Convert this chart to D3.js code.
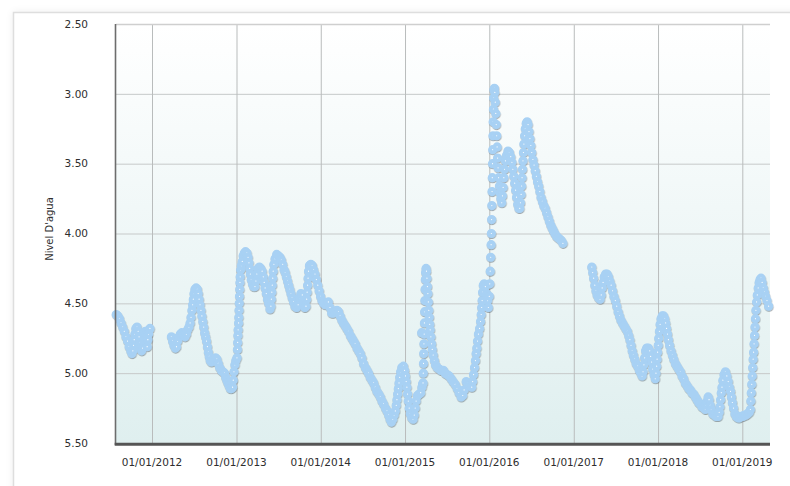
<!DOCTYPE html>
<html>
<head>
<meta charset="utf-8">
<script src="https://cdn.jsdelivr.net/npm/d3@7"></script>
<style>
  html, body { margin: 0; padding: 0; background: #ffffff; }
  svg { display: block; }
  text { font-family: "DejaVu Sans", Verdana, sans-serif; }
</style>
</head>
<body>
<svg id="chart" width="790" height="486"></svg>
<script>
// Groundwater level readings, one list per year: [month-day, level in metres]
const readings2011 = [
  ["07-30",4.58],["08-06",4.59],["08-13",4.61],["08-20",4.64],["08-27",4.67],["09-03",4.70],
  ["09-10",4.74],["09-17",4.77],["09-24",4.81],["10-01",4.84],["10-06",4.86],["10-10",4.84],
  ["10-13",4.80],["10-16",4.76],["10-19",4.72],["10-23",4.68],["10-28",4.67],["11-02",4.70],
  ["11-06",4.74],["11-10",4.78],["11-14",4.82],["11-17",4.84],["11-21",4.82],["11-25",4.77],
  ["11-29",4.73],["12-03",4.70],["12-06",4.72],["12-09",4.78],["12-11",4.81],["12-14",4.76],
  ["12-17",4.72],["12-20",4.69],["12-23",4.68]
];
const readings2012 = [
  ["03-25",4.74],["03-30",4.77],["04-05",4.80],["04-11",4.82],["04-16",4.81],["04-21",4.77],
  ["04-27",4.74],["05-03",4.72],["05-09",4.71],["05-16",4.73],["05-23",4.74],["05-29",4.72],
  ["06-03",4.69],["06-09",4.67],["06-14",4.64],["06-18",4.60],["06-22",4.55],["06-25",4.51],
  ["06-28",4.47],["07-01",4.43],["07-05",4.40],["07-10",4.39],["07-15",4.40],["07-19",4.43],
  ["07-23",4.47],["07-27",4.51],["07-31",4.55],["08-04",4.59],["08-08",4.63],["08-12",4.67],
  ["08-16",4.71],["08-20",4.74],["08-24",4.77],["08-28",4.81],["09-01",4.85],["09-05",4.88],
  ["09-09",4.91],["09-14",4.92],["09-20",4.91],["09-26",4.90],["10-02",4.89],["10-08",4.90],
  ["10-14",4.93],["10-20",4.96],["10-27",4.98],["11-03",4.99],["11-10",5.00],["11-15",5.03],
  ["11-20",5.05],["11-25",5.07],["11-30",5.09],["12-05",5.11],["12-10",5.11],["12-15",5.10],
  ["12-18",5.05],["12-21",4.99],["12-25",4.94],["12-29",4.91]
];
const readings2013 = [
  ["01-03",4.89],["01-05",4.83],["01-06",4.78],["01-07",4.73],["01-08",4.69],["01-10",4.64],
  ["01-11",4.60],["01-12",4.55],["01-13",4.50],["01-14",4.45],["01-15",4.40],["01-16",4.35],
  ["01-17",4.31],["01-19",4.26],["01-22",4.23],["01-26",4.20],["01-30",4.16],["02-04",4.14],
  ["02-09",4.13],["02-15",4.14],["02-20",4.17],["02-24",4.21],["02-27",4.25],["03-02",4.29],
  ["03-06",4.33],["03-11",4.36],["03-16",4.38],["03-22",4.38],["03-26",4.34],["03-30",4.29],
  ["04-04",4.25],["04-10",4.24],["04-16",4.25],["04-22",4.27],["04-27",4.31],["05-01",4.35],
  ["05-05",4.39],["05-10",4.43],["05-15",4.47],["05-20",4.50],["05-26",4.54],["05-30",4.52],
  ["06-01",4.47],["06-03",4.42],["06-05",4.37],["06-07",4.32],["06-09",4.27],["06-12",4.22],
  ["06-17",4.18],["06-24",4.15],["07-01",4.16],["07-08",4.17],["07-14",4.19],["07-20",4.22],
  ["07-26",4.26],["07-31",4.28],["08-05",4.31],["08-10",4.34],["08-15",4.37],["08-20",4.40],
  ["08-25",4.43],["08-30",4.46],["09-05",4.49],["09-11",4.52],["09-18",4.53],["09-25",4.51],
  ["10-01",4.46],["10-07",4.43],["10-13",4.44],["10-18",4.48],["10-24",4.53],["10-29",4.52],
  ["11-01",4.47],["11-03",4.42],["11-05",4.37],["11-07",4.32],["11-09",4.27],["11-13",4.23],
  ["11-19",4.22],["11-25",4.23],["12-01",4.26],["12-07",4.29],["12-13",4.33],["12-19",4.37],
  ["12-25",4.41],["12-31",4.45]
];
const readings2014 = [
  ["01-06",4.48],["01-13",4.50],["01-20",4.51],["01-27",4.50],["02-03",4.49],["02-10",4.53],
  ["02-17",4.57],["02-25",4.57],["03-04",4.56],["03-12",4.55],["03-19",4.56],["03-26",4.59],
  ["04-02",4.62],["04-09",4.64],["04-17",4.66],["04-24",4.68],["05-01",4.70],["05-09",4.73],
  ["05-16",4.75],["05-23",4.77],["05-30",4.79],["06-07",4.82],["06-14",4.84],["06-21",4.86],
  ["06-28",4.89],["07-05",4.93],["07-13",4.96],["07-20",4.98],["07-27",5.00],["08-03",5.03],
  ["08-11",5.05],["08-18",5.07],["08-25",5.10],["09-01",5.13],["09-09",5.15],["09-16",5.17],
  ["09-23",5.20],["09-30",5.22],["10-08",5.25],["10-15",5.27],["10-22",5.30],["10-28",5.33],
  ["11-03",5.35],["11-09",5.33],["11-15",5.30],["11-20",5.27],["11-24",5.23],["11-27",5.19],
  ["11-30",5.15],["12-03",5.11],["12-06",5.07],["12-09",5.03],["12-13",4.99],["12-18",4.96],
  ["12-25",4.95],["12-30",4.98]
];
const readings2015 = [
  ["01-03",5.02],["01-06",5.06],["01-09",5.10],["01-12",5.15],["01-15",5.20],["01-19",5.25],
  ["01-24",5.29],["01-30",5.32],["02-05",5.33],["02-10",5.30],["02-14",5.25],["02-18",5.20],
  ["02-24",5.16],["03-03",5.15],["03-10",5.14],["03-14",4.71],["03-15",5.10],["03-18",5.08],
  ["03-20",5.07],["03-21",5.00],["03-22",4.93],["03-23",4.86],["03-24",4.79],["03-25",4.72],
  ["03-26",4.64],["03-27",4.56],["03-28",4.48],["03-29",4.40],["03-30",4.33],["03-31",4.28],
  ["04-02",4.25],["04-04",4.27],["04-06",4.32],["04-08",4.38],["04-10",4.43],["04-12",4.49],
  ["04-14",4.55],["04-16",4.60],["04-18",4.65],["04-20",4.69],["04-23",4.74],["04-26",4.79],
  ["04-29",4.83],["05-03",4.87],["05-08",4.91],["05-13",4.94],["05-20",4.96],["05-29",4.97],
  ["06-06",4.98],["06-16",4.98],["06-24",5.00],["07-02",5.01],["07-11",5.02],["07-20",5.04],
  ["07-28",5.06],["08-06",5.08],["08-15",5.11],["08-23",5.14],["09-01",5.17],["09-08",5.16],
  ["09-14",5.12],["09-23",5.06],["10-01",5.07],["10-10",5.09],["10-17",5.10],["10-21",5.06],
  ["10-25",5.01],["10-29",4.96],["11-02",4.91],["11-05",4.86],["11-08",4.82],["11-11",4.77],
  ["11-15",4.72],["11-20",4.68],["11-24",4.63],["11-27",4.58],["11-29",4.53],["12-01",4.48],
  ["12-03",4.42],["12-06",4.37],["12-10",4.36],["12-15",4.38],["12-20",4.43],["12-25",4.48],
  ["12-28",4.53]
];
const readings2016 = [
  ["01-01",4.45],["01-03",4.36],["01-05",4.27],["01-07",4.17],["01-09",4.08],["01-10",4.00],
  ["01-11",3.90],["01-12",3.80],["01-13",3.70],["01-14",3.60],["01-15",3.50],["01-16",3.40],
  ["01-17",3.30],["01-18",3.20],["01-19",3.11],["01-20",3.03],["01-21",2.97],["01-23",2.96],
  ["01-25",2.99],["01-27",3.06],["01-29",3.14],["01-31",3.22],["02-02",3.30],["02-04",3.38],
  ["02-06",3.46],["02-08",3.53],["02-11",3.60],["02-14",3.66],["02-17",3.71],["02-20",3.75],
  ["02-24",3.78],["02-27",3.73],["03-01",3.67],["03-04",3.60],["03-07",3.54],["03-11",3.48],
  ["03-16",3.44],["03-22",3.41],["03-28",3.42],["04-03",3.45],["04-08",3.49],["04-12",3.54],
  ["04-16",3.59],["04-20",3.64],["04-24",3.69],["04-28",3.74],["05-03",3.79],["05-08",3.82],
  ["05-12",3.82],["05-15",3.78],["05-18",3.72],["05-20",3.66],["05-22",3.60],["05-24",3.54],
  ["05-26",3.48],["05-28",3.42],["05-30",3.36],["06-02",3.30],["06-05",3.25],["06-09",3.21],
  ["06-13",3.20],["06-17",3.22],["06-21",3.27],["06-25",3.32],["06-29",3.37],["07-03",3.42],
  ["07-08",3.47],["07-13",3.51],["07-18",3.55],["07-23",3.59],["07-28",3.63],["08-02",3.66],
  ["08-07",3.70],["08-12",3.74],["08-18",3.77],["08-24",3.80],["08-30",3.82],["09-05",3.85],
  ["09-11",3.88],["09-17",3.91],["09-23",3.94],["09-29",3.96],["10-05",3.98],["10-11",4.00],
  ["10-18",4.02],["10-25",4.03],["11-01",4.04],["11-08",4.05],["11-15",4.07]
];
const readings2017 = [
  ["03-20",4.24],["03-24",4.28],["03-28",4.32],["04-02",4.37],["04-07",4.41],["04-12",4.44],
  ["04-18",4.46],["04-25",4.47],["04-30",4.44],["05-04",4.39],["05-08",4.35],["05-13",4.31],
  ["05-19",4.29],["05-25",4.29],["05-31",4.31],["06-06",4.34],["06-12",4.37],["06-18",4.41],
  ["06-24",4.45],["06-30",4.48],["07-06",4.52],["07-12",4.56],["07-18",4.59],["07-24",4.62],
  ["07-31",4.64],["08-07",4.66],["08-14",4.68],["08-21",4.70],["08-27",4.73],["09-01",4.76],
  ["09-06",4.80],["09-11",4.84],["09-16",4.87],["09-22",4.90],["09-28",4.93],["10-05",4.95],
  ["10-12",4.98],["10-19",5.00],["10-24",5.02],["10-28",4.99],["11-01",4.94],["11-04",4.89],
  ["11-08",4.84],["11-13",4.82],["11-20",4.82],["11-26",4.84],["11-30",4.88],["12-04",4.92],
  ["12-09",4.97],["12-15",5.01],["12-20",5.04],["12-23",5.00],["12-26",4.95],["12-28",4.90],
  ["12-30",4.85]
];
const readings2018 = [
  ["01-02",4.80],["01-04",4.75],["01-07",4.70],["01-10",4.65],["01-14",4.61],["01-19",4.59],
  ["01-25",4.59],["01-30",4.61],["02-03",4.64],["02-07",4.68],["02-11",4.72],["02-15",4.76],
  ["02-20",4.80],["02-26",4.84],["03-04",4.87],["03-10",4.90],["03-17",4.93],["03-24",4.95],
  ["03-31",4.97],["04-08",4.99],["04-15",5.02],["04-22",5.04],["04-29",5.07],["05-07",5.09],
  ["05-14",5.11],["05-21",5.12],["05-28",5.14],["06-04",5.15],["06-12",5.17],["06-19",5.19],
  ["06-26",5.21],["07-03",5.22],["07-10",5.24],["07-18",5.25],["07-25",5.26],["07-29",5.23],
  ["08-02",5.20],["08-06",5.17],["08-10",5.19],["08-15",5.23],["08-20",5.26],["08-26",5.29],
  ["09-02",5.30],["09-10",5.31],["09-18",5.31],["09-23",5.28],["09-26",5.24],["09-29",5.19],
  ["10-02",5.14],["10-05",5.10],["10-09",5.05],["10-14",5.01],["10-20",4.99],["10-26",5.02],
  ["11-01",5.06],["11-06",5.10],["11-11",5.13],["11-15",5.17],["11-19",5.21],["11-24",5.25],
  ["11-30",5.29],["12-06",5.31],["12-13",5.32],["12-20",5.32],["12-27",5.31]
];
const readings2019 = [
  ["01-03",5.31],["01-10",5.30],["01-17",5.30],["01-24",5.29],["01-31",5.28],["02-05",5.26],
  ["02-07",5.20],["02-09",5.14],["02-11",5.08],["02-13",5.02],["02-15",4.96],["02-17",4.90],
  ["02-19",4.85],["02-21",4.79],["02-23",4.73],["02-25",4.67],["02-27",4.61],["03-01",4.55],
  ["03-04",4.49],["03-07",4.44],["03-11",4.39],["03-15",4.35],["03-19",4.33],["03-23",4.32],
  ["03-28",4.35],["04-02",4.39],["04-07",4.42],["04-12",4.45],["04-18",4.48],["04-25",4.52]
];

const readingsByYear = {
  2011: readings2011, 2012: readings2012, 2013: readings2013, 2014: readings2014,
  2015: readings2015, 2016: readings2016, 2017: readings2017, 2018: readings2018,
  2019: readings2019
};

// Axis ticks
const levelTicks = [2.5, 3.0, 3.5, 4.0, 4.5, 5.0, 5.5];
const yearTicks = [2012, 2013, 2014, 2015, 2016, 2017, 2018, 2019];
const axisTitle = "Nivel D'agua";
const periodStart = "2011-07-29";
const periodEnd = "2019-05-01";

const parseDate = d3.timeParse("%Y-%m-%d");
const points = [];
Object.keys(readingsByYear).forEach(year => {
  readingsByYear[year].forEach(([md, level]) => {
    points.push({ date: parseDate(year + "-" + md), level });
  });
});

const svg = d3.select("#chart");
const plot = { left: 116, top: 24, right: 770, bottom: 443 };

const defs = svg.append("defs");
const bgGrad = defs.append("linearGradient")
  .attr("id", "plotBg").attr("x1", 0).attr("y1", 0).attr("x2", 0).attr("y2", 1);
bgGrad.append("stop").attr("offset", "0%").attr("stop-color", "#ffffff");
bgGrad.append("stop").attr("offset", "100%").attr("stop-color", "#dfefef");

const frameShadow = defs.append("filter").attr("id", "frameShadow")
  .attr("x", "-5%").attr("y", "-5%").attr("width", "110%").attr("height", "110%");
frameShadow.append("feGaussianBlur").attr("stdDeviation", 4);

const markShadow = defs.append("filter").attr("id", "markShadow")
  .attr("x", "-2%").attr("y", "-2%").attr("width", "104%").attr("height", "104%");
markShadow.append("feDropShadow")
  .attr("dx", 0.4).attr("dy", 1).attr("stdDeviation", 0.7)
  .attr("flood-color", "#4a5560").attr("flood-opacity", 0.5);

// Panel frame with a soft shadow
svg.append("rect")
  .attr("x", 13).attr("y", 12).attr("width", 800).attr("height", 500)
  .attr("fill", "#000").attr("opacity", 0.07).attr("filter", "url(#frameShadow)");
svg.append("rect")
  .attr("x", 13.5).attr("y", 12.5).attr("width", 800).attr("height", 500)
  .attr("fill", "#ffffff").attr("stroke", "#dedede").attr("stroke-width", 1.5);

const x = d3.scaleTime()
  .domain([parseDate(periodStart), parseDate(periodEnd)])
  .range([plot.left, plot.right]);
const y = d3.scaleLinear()
  .domain([levelTicks[0], levelTicks[levelTicks.length - 1]])
  .range([plot.top, plot.bottom]);

// Plot background
svg.append("rect")
  .attr("x", plot.left).attr("y", plot.top)
  .attr("width", plot.right - plot.left).attr("height", plot.bottom - plot.top)
  .attr("fill", "url(#plotBg)");

// Grid
const yearDates = yearTicks.map(yr => new Date(yr, 0, 1));
svg.append("g")
  .attr("transform", `translate(${plot.left},0)`)
  .call(d3.axisLeft(y).tickValues(levelTicks).tickSize(-(plot.right - plot.left)).tickFormat(""))
  .call(g => g.select(".domain").remove())
  .call(g => g.selectAll("line").attr("stroke", "#c6c9c9").attr("stroke-width", 1));
svg.append("g")
  .attr("transform", `translate(0,${plot.bottom})`)
  .call(d3.axisBottom(x).tickValues(yearDates).tickSize(-(plot.bottom - plot.top)).tickFormat(""))
  .call(g => g.select(".domain").remove())
  .call(g => g.selectAll("line").attr("stroke", "#b9bcbc").attr("stroke-width", 1));

// Top border
svg.append("line")
  .attr("x1", plot.left).attr("x2", plot.right)
  .attr("y1", plot.top + 0.5).attr("y2", plot.top + 0.5)
  .attr("stroke", "#cfcfcf").attr("stroke-width", 1.5);

// Readings
svg.append("g")
  .attr("filter", "url(#markShadow)")
  .selectAll("circle")
  .data(points)
  .join("circle")
  .attr("cx", d => x(d.date))
  .attr("cy", d => y(d.level))
  .attr("r", 2.6)
  .attr("fill", "#ffffff")
  .attr("stroke", "#a8d1f4")
  .attr("stroke-width", 4);

// Axis lines
svg.append("line")
  .attr("x1", plot.left - 0.5).attr("x2", plot.left - 0.5)
  .attr("y1", plot.top).attr("y2", plot.bottom + 2)
  .attr("stroke", "#6d6d6d").attr("stroke-width", 1.6);
svg.append("line")
  .attr("x1", plot.left - 1.3).attr("x2", plot.right)
  .attr("y1", plot.bottom + 1.2).attr("y2", plot.bottom + 1.2)
  .attr("stroke", "#555555").attr("stroke-width", 3);

// Tick labels
const fmtLevel = d3.format(".2f");
svg.append("g").selectAll("text")
  .data(levelTicks)
  .join("text")
  .attr("x", 88).attr("y", d => y(d))
  .attr("dy", "0.35em")
  .attr("text-anchor", "end")
  .attr("font-size", 10.5)
  .attr("fill", "#2e2e2e")
  .text(d => fmtLevel(d));

const fmtDate = d3.timeFormat("%d/%m/%Y");
svg.append("g").selectAll("text")
  .data(yearDates)
  .join("text")
  .attr("x", d => x(d)).attr("y", 465.5)
  .attr("text-anchor", "middle")
  .attr("font-size", 10.5)
  .attr("fill", "#2e2e2e")
  .text(d => fmtDate(d));

// Axis title
svg.append("text")
  .attr("transform", "translate(53,229) rotate(-90)")
  .attr("text-anchor", "middle")
  .attr("font-size", 10)
  .attr("fill", "#2e2e2e")
  .text(axisTitle);
</script>
</body>
</html>
